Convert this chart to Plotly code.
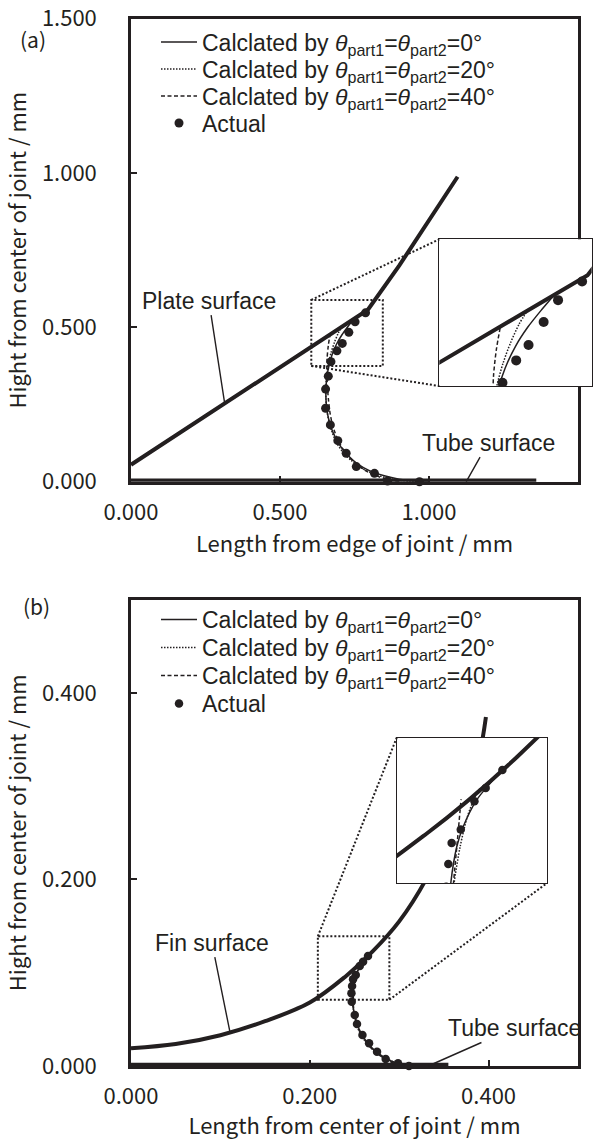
import plotly.graph_objects as go

W, H = 603, 1140

# ---------------- data: panel (a) ----------------
PLATE_A_X = [0.0, 0.795, 0.900, 1.096]
PLATE_A_Y = [0.055, 0.557, 0.700, 0.988]
TUBE_A_X = [0.0, 1.36]
TUBE_A_Y = [0.0, 0.0]

CALC0_A_X = [1.00, 0.95, 0.90, 0.85, 0.80, 0.76, 0.73, 0.705, 0.685, 0.670, 0.660, 0.655, 0.654, 0.657, 0.664, 0.675, 0.690, 0.708, 0.728, 0.748]
CALC0_A_Y = [0.000, 0.002, 0.008, 0.019, 0.036, 0.058, 0.083, 0.112, 0.145, 0.180, 0.217, 0.255, 0.295, 0.335, 0.375, 0.412, 0.446, 0.476, 0.503, 0.528]
CALC20_A_X = [0.96, 0.91, 0.86, 0.81, 0.77, 0.74, 0.712, 0.69, 0.675, 0.664, 0.657, 0.654, 0.654, 0.657, 0.663, 0.672, 0.683, 0.695, 0.708]
CALC20_A_Y = [0.000, 0.004, 0.012, 0.027, 0.046, 0.068, 0.095, 0.126, 0.160, 0.196, 0.234, 0.272, 0.310, 0.348, 0.385, 0.420, 0.452, 0.480, 0.503]
CALC40_A_X = [0.90, 0.86, 0.82, 0.785, 0.755, 0.73, 0.71, 0.694, 0.682, 0.673, 0.667, 0.663, 0.660, 0.658, 0.657, 0.658, 0.662, 0.668]
CALC40_A_Y = [0.000, 0.008, 0.020, 0.037, 0.058, 0.082, 0.108, 0.136, 0.166, 0.197, 0.229, 0.262, 0.296, 0.330, 0.365, 0.400, 0.440, 0.477]

ACTUAL_A_X = [0.787, 0.752, 0.731, 0.709, 0.691, 0.671, 0.662, 0.653, 0.653, 0.669, 0.694, 0.722, 0.756, 0.817, 0.861, 0.968]
ACTUAL_A_Y = [0.547, 0.518, 0.484, 0.448, 0.424, 0.389, 0.342, 0.300, 0.238, 0.184, 0.133, 0.092, 0.049, 0.027, 0.002, 0.000]

# ---------------- data: panel (b) ----------------
FIN_B_X = [0.0, 0.05, 0.10, 0.15, 0.20, 0.24, 0.27, 0.30, 0.33, 0.36, 0.38, 0.39, 0.397]
FIN_B_Y = [0.019, 0.0235, 0.033, 0.048, 0.068, 0.096, 0.1225, 0.155, 0.200, 0.262, 0.305, 0.335, 0.374]
TUBE_B_X = [0.0, 0.355]
TUBE_B_Y = [0.0, 0.0]

CALC0_B_X = [0.315, 0.300, 0.287, 0.276, 0.267, 0.260, 0.255, 0.2515, 0.2490, 0.2475, 0.2481, 0.2501, 0.2522, 0.2566, 0.2610, 0.2654]
CALC0_B_Y = [0.000, 0.0025, 0.007, 0.014, 0.022, 0.031, 0.040, 0.050, 0.060, 0.070, 0.0791, 0.0917, 0.0985, 0.1076, 0.1133, 0.1185]
CALC20_B_X = [0.313, 0.298, 0.285, 0.274, 0.265, 0.258, 0.2535, 0.2505, 0.2488, 0.2485, 0.2492, 0.2512, 0.2536, 0.2566, 0.2580]
CALC20_B_Y = [0.000, 0.003, 0.008, 0.015, 0.023, 0.032, 0.041, 0.051, 0.061, 0.070, 0.0791, 0.0917, 0.1020, 0.1099, 0.1119]
CALC40_B_X = [0.308, 0.294, 0.282, 0.272, 0.264, 0.258, 0.2535, 0.2505, 0.2490, 0.2485, 0.2490, 0.2503, 0.2515]
CALC40_B_Y = [0.000, 0.003, 0.009, 0.016, 0.024, 0.033, 0.042, 0.052, 0.062, 0.071, 0.0791, 0.0939, 0.1079]

ACTUAL_B_X = [0.2651, 0.2596, 0.2559, 0.2514, 0.2484, 0.2473, 0.2466, 0.2469, 0.2503, 0.2528, 0.2589, 0.2663, 0.2752, 0.2849, 0.2987, 0.3109]
ACTUAL_B_Y = [0.1179, 0.1118, 0.1072, 0.0975, 0.0929, 0.0857, 0.0779, 0.0689, 0.0547, 0.0450, 0.0332, 0.0243, 0.0153, 0.0075, 0.0029, 0.0000]

# ---------------- axes / labels ----------------
A_XRANGE = [0.0, 1.5]
A_YRANGE = [0.0, 1.5]
A_TICKS = [0.0, 0.5, 1.0, 1.5]
B_XRANGE = [0.0, 0.5]
B_YRANGE = [0.0, 0.5]
B_TICKS = [0.0, 0.2, 0.4]

A_ZOOM_X = [0.605, 0.845]
A_ZOOM_Y = [0.375, 0.589]
A_INSET_XRANGE = [0.579, 0.801]
A_INSET_YRANGE = [0.384, 0.613]
B_ZOOM_X = [0.209, 0.289]
B_ZOOM_Y = [0.071, 0.139]
B_INSET_XRANGE = [0.2303, 0.2797]
B_INSET_YRANGE = [0.0791, 0.1290]

LEGEND_NAMES = [
    "Calclated by <i>θ</i><sub>part1</sub>=<i>θ</i><sub>part2</sub>=0°",
    "Calclated by <i>θ</i><sub>part1</sub>=<i>θ</i><sub>part2</sub>=20°",
    "Calclated by <i>θ</i><sub>part1</sub>=<i>θ</i><sub>part2</sub>=40°",
    "Actual",
]
A_XTITLE = "Length from edge of joint / mm"
B_XTITLE = "Length from center of joint / mm"
YTITLE = "Hight from center of joint / mm"

# ---------------- layout geometry (pixels -> paper fractions) ----------------
MAIN_X = [131 / W, 578 / W]
A_Y = [1 - 481.7 / H, 1 - 18.7 / H]
B_Y = [1 - 1066 / H, 1 - 599.5 / H]
A_INSET_X = [439.3 / W, 591.7 / W]
A_INSET_Y = [1 - 386 / H, 1 - 239.3 / H]
B_INSET_X = [396.7 / W, 546.7 / W]
B_INSET_Y = [1 - 883.3 / H, 1 - 737.7 / H]
A_LEGEND_ROWS = [42.0, 69.0, 96.0, 123.0]
B_LEGEND_ROWS = [619.5, 647.5, 675.5, 703.5]
LEGEND_LEFT = 156

INK = "#231f20"
TICK_FONT = dict(family="Noto Sans CJK JP", size=22, color=INK)
TITLE_FONT = dict(family="Noto Sans CJK JP", size=22, color=INK)
LEG_FONT = dict(family="Liberation Sans", size=23, color=INK)
ANN_FONT = dict(family="Liberation Sans", size=23, color=INK)
PANEL_FONT = dict(family="Noto Sans CJK JP", size=21, color=INK)

fig = go.Figure()


def add_series(xa, ya, legends, show, s):
    (sx, sy, surf_shape, c0x, c0y, c20x, c20y, c40x, c40y, acx, acy, tx, ty, msize) = s
    fig.add_trace(go.Scatter(x=tx, y=ty, mode="lines", line=dict(color=INK, width=6.5),
                             xaxis=xa, yaxis=ya, showlegend=False, hoverinfo="skip"))
    fig.add_trace(go.Scatter(x=sx, y=sy, mode="lines",
                             line=dict(color=INK, width=4, shape=surf_shape),
                             xaxis=xa, yaxis=ya, showlegend=False, hoverinfo="skip"))
    fig.add_trace(go.Scatter(x=c0x, y=c0y, mode="lines", name=LEGEND_NAMES[0],
                             line=dict(color=INK, width=1.5, shape="spline", smoothing=0.8),
                             xaxis=xa, yaxis=ya, legend=legends[0], showlegend=show))
    fig.add_trace(go.Scatter(x=c20x, y=c20y, mode="lines", name=LEGEND_NAMES[1],
                             line=dict(color=INK, width=1.5, dash="1.5px,1.5px",
                                       shape="spline", smoothing=0.8),
                             xaxis=xa, yaxis=ya, legend=legends[1], showlegend=show))
    fig.add_trace(go.Scatter(x=c40x, y=c40y, mode="lines", name=LEGEND_NAMES[2],
                             line=dict(color=INK, width=1.5, dash="4px,2.5px",
                                       shape="spline", smoothing=0.8),
                             xaxis=xa, yaxis=ya, legend=legends[2], showlegend=show))
    fig.add_trace(go.Scatter(x=acx, y=acy, mode="markers", name=LEGEND_NAMES[3],
                             marker=dict(color=INK, size=msize, line=dict(width=0)),
                             xaxis=xa, yaxis=ya, legend=legends[3], showlegend=show,
                             cliponaxis=(show is False)))


A_SET = (PLATE_A_X, PLATE_A_Y, "linear", CALC0_A_X, CALC0_A_Y, CALC20_A_X, CALC20_A_Y,
         CALC40_A_X, CALC40_A_Y, ACTUAL_A_X, ACTUAL_A_Y, TUBE_A_X, TUBE_A_Y)
B_SET = (FIN_B_X, FIN_B_Y, "spline", CALC0_B_X, CALC0_B_Y, CALC20_B_X, CALC20_B_Y,
         CALC40_B_X, CALC40_B_Y, ACTUAL_B_X, ACTUAL_B_Y, TUBE_B_X, TUBE_B_Y)

A_LEG = ["legend", "legend2", "legend3", "legend4"]
B_LEG = ["legend5", "legend6", "legend7", "legend8"]
add_series("x", "y", A_LEG, True, A_SET + (9,))
add_series("x2", "y2", A_LEG, False, A_SET + (10,))
add_series("x3", "y3", B_LEG, True, B_SET + (8.5,))
add_series("x4", "y4", B_LEG, False, B_SET + (8.5,))


def main_axis(dom, rng, ticks, title, is_x, anchor):
    return dict(domain=dom, range=rng, tickvals=ticks, tickformat=".3f", showgrid=False,
                zeroline=False, showline=True, mirror=True, linecolor=INK, linewidth=2.5,
                ticks="inside", ticklen=6, tickwidth=1.5, tickcolor=INK, tickfont=TICK_FONT,
                anchor=anchor, fixedrange=True, automargin=False,
                ticklabelstandoff=9 if is_x else 27,
                title=dict(text=title, font=TITLE_FONT, standoff=9 if is_x else 10))


def inset_axis(dom, rng, anchor):
    return dict(domain=dom, range=rng, showgrid=False, zeroline=False, showline=True,
                mirror=True, linecolor=INK, linewidth=1.2, ticks="", showticklabels=False,
                anchor=anchor, fixedrange=True, automargin=False)


layout = dict(
    width=W, height=H, margin=dict(l=0, r=0, t=0, b=0, autoexpand=False),
    paper_bgcolor="white", plot_bgcolor="white", showlegend=True,
    xaxis=main_axis(MAIN_X, A_XRANGE, A_TICKS, A_XTITLE, True, "y"),
    yaxis=main_axis(A_Y, A_YRANGE, A_TICKS, YTITLE, False, "x"),
    xaxis2=inset_axis(A_INSET_X, A_INSET_XRANGE, "y2"),
    yaxis2=inset_axis(A_INSET_Y, A_INSET_YRANGE, "x2"),
    xaxis3=main_axis(MAIN_X, B_XRANGE, B_TICKS, B_XTITLE, True, "y3"),
    yaxis3=main_axis(B_Y, B_YRANGE, B_TICKS, YTITLE, False, "x3"),
    xaxis4=inset_axis(B_INSET_X, B_INSET_XRANGE, "y4"),
    yaxis4=inset_axis(B_INSET_Y, B_INSET_YRANGE, "x4"),
)
for names, rows in ((A_LEG, A_LEGEND_ROWS), (B_LEG, B_LEGEND_ROWS)):
    for name, row in zip(names, rows):
        layout[name] = dict(x=LEGEND_LEFT / W, y=1 - row / H, xanchor="left", yanchor="middle",
                            font=LEG_FONT, bgcolor="rgba(0,0,0,0)", itemwidth=36,
                            borderwidth=0)
fig.update_layout(**layout)


def p2d(p, dom, rng):
    return rng[0] + (p - dom[0]) / (dom[1] - dom[0]) * (rng[1] - rng[0])


DOT = dict(color=INK, width=2, dash="2px,2px")
shapes = []
# panel (a) zoom box and connectors (top-left -> top-left, bottom-left -> bottom-left)
shapes.append(dict(type="rect", xref="x", yref="y", x0=A_ZOOM_X[0], x1=A_ZOOM_X[1],
                   y0=A_ZOOM_Y[0], y1=A_ZOOM_Y[1], line=DOT))
ax_l = p2d(A_INSET_X[0], MAIN_X, A_XRANGE)
ay_t = p2d(A_INSET_Y[1], A_Y, A_YRANGE)
ay_b = p2d(A_INSET_Y[0], A_Y, A_YRANGE)
shapes.append(dict(type="line", xref="x", yref="y", x0=A_ZOOM_X[0], y0=A_ZOOM_Y[1],
                   x1=ax_l, y1=ay_t, line=DOT))
shapes.append(dict(type="line", xref="x", yref="y", x0=A_ZOOM_X[0], y0=A_ZOOM_Y[0],
                   x1=ax_l, y1=ay_b, line=DOT))
# panel (b) zoom box and connectors (top-left -> top-left, bottom-right -> bottom-right)
shapes.append(dict(type="rect", xref="x3", yref="y3", x0=B_ZOOM_X[0], x1=B_ZOOM_X[1],
                   y0=B_ZOOM_Y[0], y1=B_ZOOM_Y[1], line=DOT))
bx_l = p2d(B_INSET_X[0], MAIN_X, B_XRANGE)
bx_r = p2d(B_INSET_X[1], MAIN_X, B_XRANGE)
by_t = p2d(B_INSET_Y[1], B_Y, B_YRANGE)
by_b = p2d(B_INSET_Y[0], B_Y, B_YRANGE)
shapes.append(dict(type="line", xref="x3", yref="y3", x0=B_ZOOM_X[0], y0=B_ZOOM_Y[1],
                   x1=bx_l, y1=by_t, line=DOT))
shapes.append(dict(type="line", xref="x3", yref="y3", x0=B_ZOOM_X[1], y0=B_ZOOM_Y[0],
                   x1=bx_r, y1=by_b, line=DOT))
fig.update_layout(shapes=shapes)

ARROW = dict(showarrow=True, arrowhead=0, arrowwidth=1.4, arrowcolor=INK, font=ANN_FONT)
fig.add_annotation(text="Plate surface", x=0.315, y=0.25, xref="x", yref="y",
                   ax=-16, ay=-104, **ARROW)
fig.add_annotation(text="Tube surface", x=1.125, y=0.0, xref="x", yref="y",
                   ax=22, ay=-39, **ARROW)
fig.add_annotation(text="Fin surface", x=0.1106, y=0.0368, xref="x3", yref="y3",
                   ax=-18, ay=-89, **ARROW)
fig.add_annotation(text="Tube surface", x=0.3325, y=0.0, xref="x3", yref="y3",
                   ax=86, ay=-38, **ARROW)
fig.add_annotation(text="(a)", x=18 / W, y=1 - 22 / H, xref="paper", yref="paper",
                   showarrow=False, font=PANEL_FONT)
fig.add_annotation(text="(b)", x=21 / W, y=1 - 606 / H, xref="paper", yref="paper",
                   showarrow=False, font=PANEL_FONT)

fig.write_html("out.html")
